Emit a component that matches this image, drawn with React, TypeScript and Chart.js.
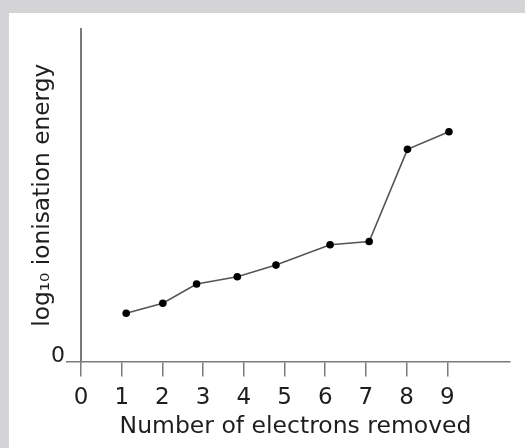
import React, { useEffect, useRef } from "react";
import { Chart, registerables } from "chart.js";

Chart.register(...registerables);

const electronsRemoved = [1.11, 2.01, 2.84, 3.84, 4.79, 6.12, 7.08, 8.02, 9.04];
const logIonisationEnergy = [1.45, 1.75, 2.33, 2.55, 2.9, 3.51, 3.61, 6.38, 6.91];
const xTickValues = [0, 1, 2, 3, 4, 5, 6, 7, 8, 9];
const yTickValues = [0];
const xTitle = "Number of electrons removed";
const yTitle = "log\u2081\u2080 ionisation energy";

const FONT = "'DejaVu Sans', 'Open Sans', sans-serif";
const TEXT = "#1e1e1e";
const AXIS = "#7a7a7a";

export default function App() {
  const canvasRef = useRef<HTMLCanvasElement | null>(null);

  useEffect(() => {
    const canvas = canvasRef.current;
    if (!canvas) return;
    const points = electronsRemoved.map((x, i) => ({ x, y: logIonisationEnergy[i] }));
    const chart = new Chart(canvas, {
      type: "scatter",
      data: {
        datasets: [
          {
            data: points,
            showLine: true,
            borderColor: "#555555",
            borderWidth: 1.6,
            pointRadius: 3.8,
            pointBackgroundColor: "#000000",
            pointBorderColor: "#000000",
            pointBorderWidth: 0,
          },
        ],
      },
      options: {
        responsive: false,
        animation: false,
        devicePixelRatio: 1,
        layout: { padding: { left: 0, top: 16, right: 15, bottom: 0 } },
        plugins: { legend: { display: false }, tooltip: { enabled: false } },
        scales: {
          x: {
            type: "linear",
            min: 0,
            max: 10.54,
            afterBuildTicks: (s: any) => {
              s.ticks = xTickValues.map((v) => ({ value: v }));
            },
            afterFit: (s: any) => {
              s.height = 86.5;
            },
            ticks: {
              autoSkip: false,
              maxRotation: 0,
              padding: 8,
              color: TEXT,
              font: { family: FONT, size: 23 },
              callback: (v: any) => String(v),
            },
            grid: {
              display: true,
              drawOnChartArea: false,
              drawTicks: true,
              tickLength: 15,
              color: AXIS,
              lineWidth: 1.5,
            },
            border: { display: true, color: AXIS, width: 1.5 },
            title: {
              display: true,
              text: xTitle,
              color: TEXT,
              font: { family: FONT, size: 23.5 },
              padding: { top: 0, bottom: 7.5 },
            },
          },
          y: {
            type: "linear",
            min: 0,
            max: 10,
            afterBuildTicks: (s: any) => {
              s.ticks = yTickValues.map((v) => ({ value: v }));
            },
            afterFit: (s: any) => {
              s.width = 72;
            },
            ticks: {
              padding: 1,
              labelOffset: -5,
              color: TEXT,
              font: { family: FONT, size: 22 },
              callback: (v: any) => String(v),
            },
            grid: {
              display: true,
              drawOnChartArea: false,
              drawTicks: true,
              tickLength: 15,
              color: AXIS,
              lineWidth: 1.5,
            },
            border: { display: true, color: AXIS, width: 2 },
            title: {
              display: true,
              text: yTitle,
              color: TEXT,
              font: { family: FONT, size: 23.3 },
              padding: { top: 20, bottom: 0 },
            },
          },
        },
      },
    });
    return () => chart.destroy();
  }, []);

  return (
    <div
      style={{
        position: "fixed",
        left: 0,
        top: 0,
        width: 525,
        height: 448,
        background: "#d4d4d6",
        overflow: "hidden",
      }}
    >
      <div
        style={{
          position: "absolute",
          left: 9,
          top: 13,
          width: 516,
          height: 435,
          background: "#ffffff",
        }}
      >
        <canvas ref={canvasRef} width={516} height={435} style={{ display: "block" }} />
      </div>
    </div>
  );
}
